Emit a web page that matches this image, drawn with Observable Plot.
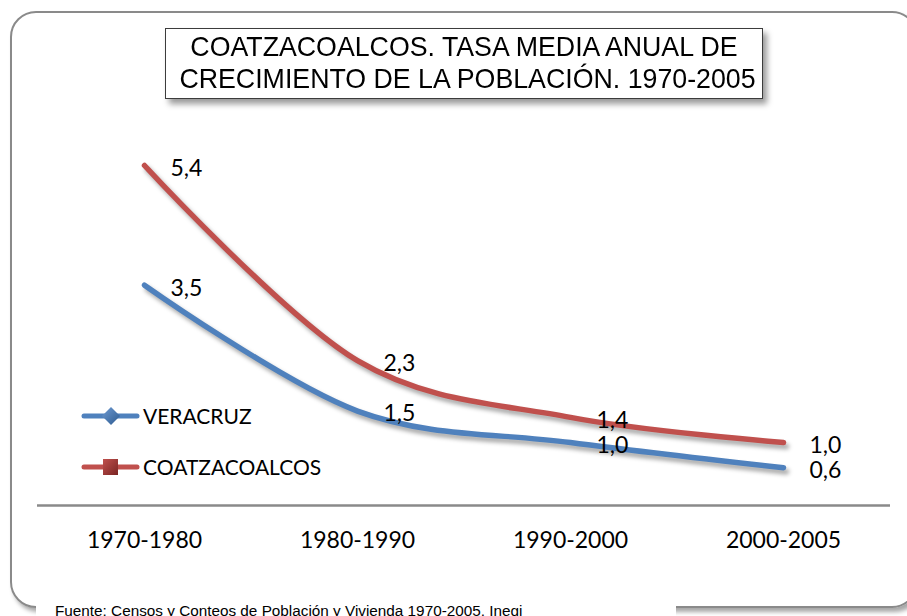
<!DOCTYPE html>
<html>
<head>
<meta charset="utf-8">
<script src="https://cdn.jsdelivr.net/npm/d3@7"></script>
<script src="https://cdn.jsdelivr.net/npm/@observablehq/plot@0.6"></script>
<style>
  html, body { margin: 0; padding: 0; background: white; overflow: hidden; }
  #wrap { position: relative; width: 907px; height: 616px; overflow: hidden; background: white; }
  #frame { position: absolute; left: 10px; top: 11px; width: 904px; height: 593px;
    border: 2px solid #8a8a8a; border-radius: 26px; box-shadow: 3px 4px 4px rgba(0,0,0,0.35); }
  #chart { position: absolute; left: 0; top: 0; }
  #title { position: absolute; left: 165px; top: 28px; width: 596px; height: 69px;
    border: 1px solid #3c3c3c; background: white; box-shadow: 4px 5px 6px rgba(0,0,0,0.4);
    box-sizing: content-box; color: #000; }
  #titletext { font-family: "Liberation Sans", Arial, sans-serif; font-size: 28px; line-height: 32px;
    text-align: center; padding-top: 2px; transform: scaleX(0.955); transform-origin: 50% 50%; white-space: nowrap; }
  #legend { position: absolute; left: 0; top: 0; }
  .leg { position: absolute; left: 143px; font-family: Lato, sans-serif; font-size: 21px; line-height: 22px; color: #000; }
  #cover { position: absolute; left: 36px; top: 598px; width: 640px; height: 18px; background: white; }
  #caption { position: absolute; left: 55px; top: 602px; font-family: "Liberation Sans Narrow", "Liberation Sans", Arial, sans-serif;
    font-size: 15.3px; line-height: 18px; color: #000; white-space: nowrap; }
</style>
</head>
<body>
<div id="wrap">
  <div id="frame"></div>
  <div id="chart"></div>
  <div id="title"><div id="titletext">COATZACOALCOS. TASA MEDIA ANUAL DE<br>CRECIMIENTO DE LA POBLACIÓN. 1970-2005</div></div>
  <svg id="legend" width="300" height="500"></svg>
  <div class="leg" id="leg0" style="top:405px"></div>
  <div class="leg" id="leg1" style="top:456px"></div>
  <div id="cover"></div>
  <div id="caption">Fuente: Censos y Conteos de Población y Vivienda 1970-2005, Inegi</div>
</div>
<script>
const periods = ["1970-1980", "1980-1990", "1990-2000", "2000-2005"];
const seriesNames = ["VERACRUZ", "COATZACOALCOS"];
const veracruz = [3.5, 1.5, 1.0, 0.6];
const coatzacoalcos = [5.4, 2.3, 1.4, 1.0];
const seriesColors = ["#4F81BD", "#C0504D"];

const rows = [];
[veracruz, coatzacoalcos].forEach((vals, s) => {
  vals.forEach((v, i) => rows.push({period: periods[i], value: v, series: seriesNames[s]}));
});
const fmt = v => v.toFixed(1).replace(".", ",");

const chart = Plot.plot({
  width: 907,
  height: 616,
  marginLeft: 143,
  marginRight: 123,
  marginTop: 165,
  marginBottom: 111,
  style: {background: "transparent", fontFamily: "Lato, sans-serif", fontSize: "23px", color: "#000"},
  x: {type: "point", domain: periods, padding: 0, label: null, tickSize: 0, tickPadding: 26},
  y: {domain: [0, 5.4], axis: null},
  color: {domain: seriesNames, range: seriesColors},
  marks: [
    Plot.ruleY([0], {stroke: "#8a8a8a", strokeWidth: 2.5, insetLeft: -106, insetRight: -106}),
    Plot.line(rows, {x: "period", y: "value", z: "series", stroke: "series", strokeWidth: 5.5, curve: "cardinal"}),
    Plot.text(rows, {x: "period", y: "value", text: d => fmt(d.value), dx: 26, dy: 3, textAnchor: "start", fontSize: 23, fill: "#000"})
  ]
});
document.getElementById("chart").appendChild(chart);
chart.querySelectorAll('g[aria-label="line"]').forEach(g => {
  g.style.filter = "drop-shadow(3px 4px 2px rgba(0,0,0,0.35))";
});

// legend
const leg = d3.select("#legend");
const defs = leg.append("defs");
const gb = defs.append("linearGradient").attr("id", "gb").attr("x1", 0).attr("y1", 0).attr("x2", 1).attr("y2", 1);
gb.append("stop").attr("offset", "0%").attr("stop-color", "#6f9bd3");
gb.append("stop").attr("offset", "100%").attr("stop-color", "#2c5a8f");
const gr = defs.append("linearGradient").attr("id", "gr").attr("x1", 0).attr("y1", 0).attr("x2", 1).attr("y2", 1);
gr.append("stop").attr("offset", "0%").attr("stop-color", "#c0504d");
gr.append("stop").attr("offset", "100%").attr("stop-color", "#7a2523");
const legY = [416, 467];
seriesNames.forEach((name, i) => {
  leg.append("line").attr("x1", 84).attr("x2", 137).attr("y1", legY[i]).attr("y2", legY[i])
    .attr("stroke", seriesColors[i]).attr("stroke-width", 5).attr("stroke-linecap", "round");
  document.getElementById("leg" + i).textContent = name;
});
leg.append("path").attr("d", `M111,${legY[0]-9} L120,${legY[0]} L111,${legY[0]+9} L102,${legY[0]} Z`).attr("fill", "url(#gb)");
leg.append("rect").attr("x", 103).attr("y", legY[1]-8).attr("width", 15).attr("height", 16).attr("fill", "url(#gr)");
</script>
</body>
</html>
